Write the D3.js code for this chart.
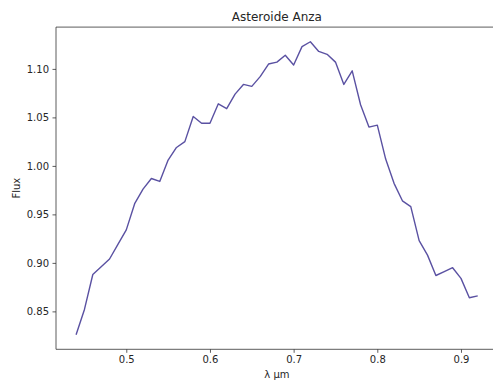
<!DOCTYPE html>
<html>
<head>
<meta charset="utf-8">
<script src="https://cdn.jsdelivr.net/npm/d3@7"></script>
<style>
  html, body { margin: 0; padding: 0; background: #fff; overflow: hidden; }
  svg { display: block; }
  text { font-family: "DejaVu Sans", sans-serif; fill: #262626; }
</style>
</head>
<body>
<div id="chart"></div>
<script>
// Wavelength grid (µm) and measured reflectance flux of asteroid Anza
const wavelength = [
  0.44, 0.45, 0.46, 0.47, 0.48, 0.49, 0.50, 0.51, 0.52, 0.53,
  0.54, 0.55, 0.56, 0.57, 0.58, 0.59, 0.60, 0.61, 0.62, 0.63,
  0.64, 0.65, 0.66, 0.67, 0.68, 0.69, 0.70, 0.71, 0.72, 0.73,
  0.74, 0.75, 0.76, 0.77, 0.78, 0.79, 0.80, 0.81, 0.82, 0.83,
  0.84, 0.85, 0.86, 0.87, 0.88, 0.89, 0.90, 0.91, 0.92
];
const flux = [
  0.826, 0.852, 0.888, 0.896, 0.904, 0.919, 0.934, 0.961, 0.976, 0.987,
  0.984, 1.006, 1.019, 1.025, 1.051, 1.044, 1.044, 1.064, 1.059, 1.074,
  1.084, 1.082, 1.092, 1.105, 1.107, 1.114, 1.104, 1.123, 1.128, 1.118,
  1.115, 1.107, 1.084, 1.098, 1.063, 1.040, 1.042, 1.007, 0.982, 0.964,
  0.958, 0.923, 0.908, 0.887, 0.891, 0.895, 0.884, 0.864, 0.866
];
const xTicks = [0.5, 0.6, 0.7, 0.8, 0.9];
const yTicks = [0.85, 0.90, 0.95, 1.00, 1.05, 1.10];

const width = 493, height = 385;
const margin = { top: 27.1, left: 56, bottom: 35.7 };
const plotW = 441.8; // axes box extends past the right edge of the canvas
const plotH = height - margin.top - margin.bottom;

const points = wavelength.map((w, i) => ({ w, f: flux[i] }));

// 5% padding on each side of the data range
const xExt = d3.extent(wavelength), yExt = d3.extent(flux);
const xPad = (xExt[1] - xExt[0]) * 0.05, yPad = (yExt[1] - yExt[0]) * 0.05;

const x = d3.scaleLinear()
  .domain([xExt[0] - xPad, xExt[1] + xPad])
  .range([margin.left, margin.left + plotW]);
const y = d3.scaleLinear()
  .domain([yExt[0] - yPad, yExt[1] + yPad])
  .range([margin.top + plotH, margin.top]);

const svg = d3.select("#chart").append("svg")
  .attr("width", width).attr("height", height);

// Spectrum line
svg.append("path")
  .datum(points)
  .attr("fill", "none")
  .attr("stroke", "#5a51a2")
  .attr("stroke-width", 1.4)
  .attr("stroke-linejoin", "round")
  .attr("d", d3.line().x(d => x(d.w)).y(d => y(d.f)));

// Axes
const xAxis = svg.append("g")
  .attr("transform", `translate(0,${margin.top + plotH})`)
  .call(d3.axisBottom(x).tickValues(xTicks).tickFormat(d3.format(".1f"))
    .tickSizeInner(3.5).tickSizeOuter(0).tickPadding(3.5));
const yAxis = svg.append("g")
  .attr("transform", `translate(${margin.left},0)`)
  .call(d3.axisLeft(y).tickValues(yTicks).tickFormat(d3.format(".2f"))
    .tickSizeInner(3.5).tickSizeOuter(0).tickPadding(3.5));

[xAxis, yAxis].forEach(g => {
  g.selectAll(".domain").remove();
  g.selectAll(".tick line").attr("stroke", "#333").attr("stroke-width", 0.8);
  g.selectAll(".tick text").attr("font-size", 10).attr("fill", "#262626")
    .style("font-family", "'DejaVu Sans', sans-serif");
});

// Spines: left, bottom and top (the right one lies off-canvas)
const x0 = margin.left, x1 = margin.left + plotW;
const y0 = margin.top, y1 = margin.top + plotH;
const spines = [
  [x0, y0, x0, y1],
  [x0, y1, x1, y1],
  [x0, y0, x1, y0]
];
svg.append("g").selectAll("line").data(spines).join("line")
  .attr("x1", d => d[0]).attr("y1", d => d[1])
  .attr("x2", d => d[2]).attr("y2", d => d[3])
  .attr("stroke", "#333").attr("stroke-width", 0.8);

// Labels
svg.append("text")
  .attr("x", margin.left + plotW / 2).attr("y", 21)
  .attr("text-anchor", "middle").attr("font-size", 12)
  .text("Asteroide Anza");
svg.append("text")
  .attr("x", margin.left + plotW / 2).attr("y", 378)
  .attr("text-anchor", "middle").attr("font-size", 10)
  .text("λ µm");
svg.append("text")
  .attr("transform", `translate(19.5,${margin.top + plotH / 2}) rotate(-90)`)
  .attr("text-anchor", "middle").attr("font-size", 10)
  .text("Flux");
</script>
</body>
</html>
